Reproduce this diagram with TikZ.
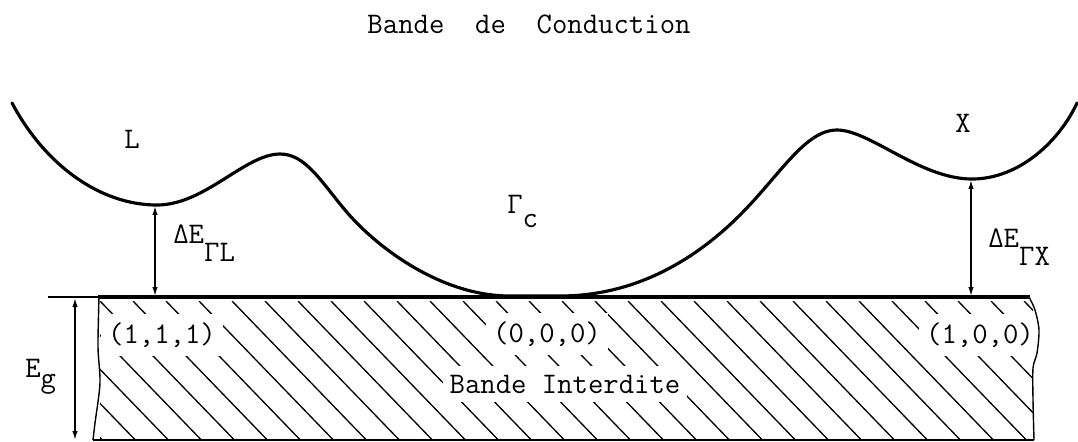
\documentclass[tikz,border=0pt]{standalone}
\usetikzlibrary{arrows.meta}
\tikzset{
  txt/.style={font=\fontsize{17}{20}\selectfont\ttfamily, inner sep=0pt},
  band/.style={line width=1.8pt, line join=round, line cap=round},
  topline/.style={line width=2.2pt},
  edgeline/.style={line width=0.8pt},
  hatch/.style={line width=0.75pt},
  dimarrow/.style={line width=0.8pt, {Latex[length=5pt,width=3pt]}-{Latex[length=5pt,width=3pt]}},
  coordlbl/.style={txt, fill=white, inner xsep=4pt, inner ysep=5pt},
}
\begin{document}
\begin{tikzpicture}[x=0.02cm,y=-0.02cm]
\useasboundingbox (0,0) rectangle (1078,441);
% hatching of the forbidden band
\begin{scope}
  \clip (100,301) rectangle (1033,438);
  \foreach \i in {-5,...,30} \draw[hatch] (100+33*\i,301) -- ++(145,150);
\end{scope}
% labels inside the band (white background breaks the hatching)
\node[coordlbl, anchor=base] (k111) at (162,343) {(1,1,1)};
\node[coordlbl, anchor=base] (k000) at (547,342) {(0,0,0)};
\node[coordlbl, anchor=base] (k100) at (980,343) {(1,0,0)};
\node[coordlbl, anchor=base] (gap) at (565,393) {Bande Interdite};
% box outline
\coordinate (TLx) at (48,297);
\coordinate (TL) at (98,297);
\coordinate (TR) at (1030,297);
\draw[edgeline] (TLx) -- (TL);
\draw[edgeline] plot[smooth] coordinates {(99,297) (98,347) (100,383) (95,423) (93,440)};
\draw[edgeline] (93,440) -- (1034,440);
\draw[edgeline] plot[smooth] coordinates {(1029,297) (1035,310) (1039,330) (1037,353) (1033,368) (1033,400) (1034,440)};
\draw[topline] (TL) -- (TR);
% conduction band
\draw[band] (12,103) .. controls (45,165) and (100,205) .. (157,205)
  .. controls (205,205) and (245,154) .. (280,154)
  .. controls (305,154) and (320,180) .. (345,210)
  .. controls (375,246) and (440,296) .. (510,296)
  -- (560,296)
  .. controls (640,296) and (700,255) .. (740,215)
  .. controls (780,175) and (805,130) .. (837,130)
  .. controls (870,130) and (920,179) .. (972,179)
  .. controls (1020,179) and (1060,140) .. (1077,103);
% arrows
\coordinate (Lmin) at (155,206);
\coordinate (Lbot) at (155,296);
\coordinate (Xmin) at (971,180);
\coordinate (Xbot) at (971,296);
\coordinate (Egtop) at (75,298);
\coordinate (Egbot) at (75,440);
\draw[dimarrow] (Lmin) -- (Lbot);
\draw[dimarrow] (Xmin) -- (Xbot);
\draw[dimarrow] (Egtop) -- (Egbot);
% labels
\node[txt, anchor=base] (title) at (529,33) {Bande\ \ de\ \ Conduction};
\node[txt, anchor=base west] (L) at (124,148) {L};
\node[txt, anchor=base west] (X) at (955,132) {X};
\node[txt, anchor=base west] (Gc) at (507,213) {Γ\raisebox{-8pt}{c}};
\node[txt, anchor=base west] (dEL) at (173,243) {ΔE\raisebox{-10.5pt}{ΓL}};
\node[txt, anchor=base west] (dEX) at (988,247) {ΔE\raisebox{-10.5pt}{ΓX}};
\node[txt, anchor=base west] (Eg) at (25,377) {E\raisebox{-6pt}{g}};
\end{tikzpicture}
\end{document}
